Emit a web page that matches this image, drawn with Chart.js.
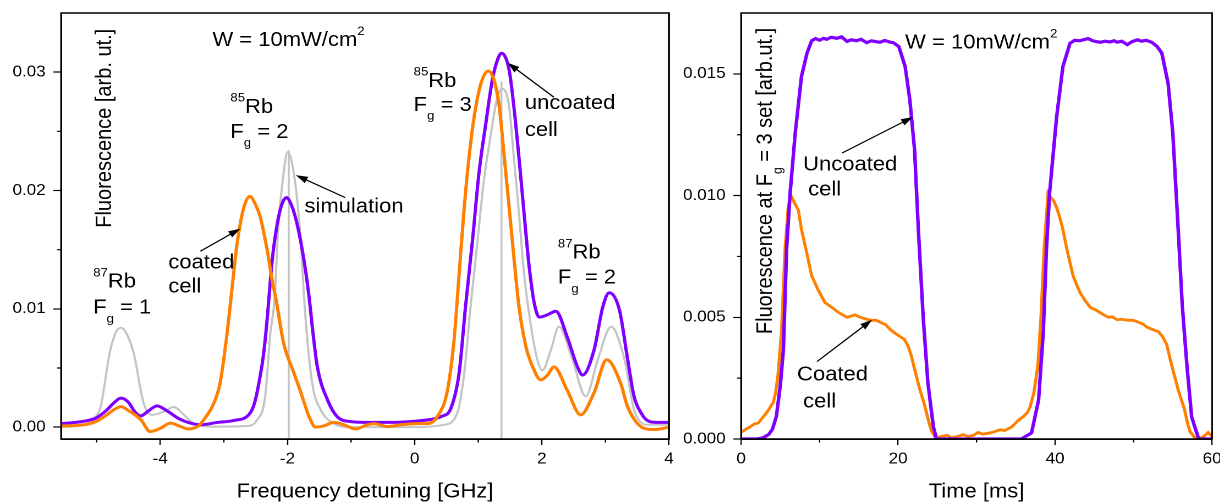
<!DOCTYPE html>
<html>
<head>
<meta charset="utf-8">
<script src="https://cdn.jsdelivr.net/npm/chart.js@4.4.0/dist/chart.umd.min.js"></script>
<style>
  html, body { margin: 0; padding: 0; background: #fff; }
  body { width: 1220px; height: 504px; position: relative; overflow: hidden; }
  /* both panels are drawn a little narrow and widened by 10% */
  .panel { position: absolute; top: 0; height: 504px; transform-origin: 0 0; transform: scaleX(1.1); }
  #leftBox { left: 0; width: 618px; }
  #rightBox { left: 680px; width: 491px; }
</style>
</head>
<body>
<div class="panel" id="leftBox"><canvas id="spectrum"></canvas></div>
<div class="panel" id="rightBox"><canvas id="timeTrace"></canvas></div>
<script>
// --- data: fluorescence spectrum ---
const uncoatedFreq = [-5.56, -5.2, -5.0, -4.85, -4.72, -4.62, -4.5, -4.4, -4.31, -4.18, -4.05, -3.9, -3.7, -3.5, -3.37, -3.1,
  -2.85, -2.6, -2.52, -2.45, -2.38, -2.33, -2.29, -2.24, -2.16, -2.09, -2.016, -1.94, -1.85, -1.74, -1.66, -1.61, -1.53,
  -1.37, -1.22, -1.0, -0.7, -0.4, 0.0, 0.3, 0.42, 0.57, 0.70, 0.80, 0.91, 1.01, 1.12, 1.22, 1.30, 1.365, 1.485, 1.56,
  1.64, 1.72, 1.80, 1.88, 1.96, 2.09, 2.22, 2.40, 2.56, 2.64, 2.82, 2.96, 3.06, 3.22, 3.35, 3.45, 3.56, 3.66, 3.8, 4.0];
const uncoatedFluo = [0.0003, 0.0005, 0.0008, 0.0014, 0.0021, 0.00245, 0.0021, 0.0013, 0.00095, 0.0014, 0.0018, 0.0014, 0.0007, 0.0003, 0.0002, 0.0004,
  0.00056, 0.0011, 0.002, 0.0037, 0.006, 0.0085, 0.011, 0.0141, 0.0172, 0.0188, 0.0194, 0.0188, 0.0172, 0.0141, 0.011, 0.0085, 0.0051,
  0.0023, 0.0009, 0.00047, 0.0004, 0.0004, 0.0005, 0.0007, 0.0009, 0.0016, 0.0046, 0.0102, 0.0158, 0.0214, 0.0257, 0.0293, 0.0310, 0.0316, 0.0302, 0.0271,
  0.0228, 0.0181, 0.0136, 0.0105, 0.0093, 0.0095, 0.0098, 0.0076, 0.0051, 0.0044, 0.0065, 0.0102, 0.01136, 0.0099, 0.0057, 0.0026, 0.0012, 0.00056, 0.0004, 0.0004];

const coatedFreq = [-5.56, -5.2, -5.0, -4.85, -4.72, -4.62, -4.5, -4.3, -4.16, -4.0, -3.84, -3.7, -3.56, -3.4, -3.32, -3.16, -3.06,
  -2.95, -2.87, -2.8, -2.72, -2.66, -2.59, -2.52, -2.43, -2.32, -2.24, -2.18, -2.06, -1.90, -1.80, -1.66, -1.56, -1.43, -1.27,
  -1.11, -0.93, -0.745, -0.64, -0.43, -0.22, 0.04, 0.2, 0.357, 0.515, 0.62, 0.70, 0.78, 0.855, 0.935, 1.04, 1.155, 1.25, 1.33,
  1.41, 1.485, 1.56, 1.64, 1.75, 1.88, 1.98, 2.09, 2.19, 2.40, 2.61, 2.82, 3.02, 3.24, 3.35, 3.61, 3.77, 4.0];
const coatedFluo = [0.0001, 0.0002, 0.0005, 0.0010, 0.0015, 0.00174, 0.0014, 0.0006, -0.00037, -0.0001, 0.00034, 0.0001, -0.00015, 0.0001, 0.0006, 0.0020, 0.0037,
  0.0079, 0.0118, 0.0152, 0.0178, 0.0190, 0.0195, 0.0190, 0.0178, 0.0150, 0.0124, 0.0108, 0.0071, 0.0046, 0.0031, 0.0009, 0.0, 0.0001, 0.0004,
  0.0002, -0.00015, 0.0002, 0.0003, 0.00005, 0.0002, 0.0003, 0.0003, 0.0009, 0.0031, 0.0074, 0.0130, 0.0186, 0.0228, 0.0262, 0.0290, 0.0301, 0.0293, 0.0271,
  0.0228, 0.0186, 0.0144, 0.0102, 0.0068, 0.0048, 0.0040, 0.0044, 0.0051, 0.0031, 0.00104, 0.0029, 0.0057, 0.0037, 0.0017, -0.0001, -0.0002, 0.0];

const simFreq = [-5.56, -5.2, -5.05, -4.94, -4.79, -4.7, -4.62, -4.54, -4.42, -4.26, -4.13, -3.95, -3.79, -3.6, -3.47, -3.2, -2.63, -2.48,
  -2.35, -2.27, -2.2, -2.15, -2.08, -1.995, -1.89, -1.80, -1.72, -1.61, -1.48, -1.27, -1.0, 0.0, 0.46, 0.67, 0.78, 0.88,
  0.99, 1.09, 1.20, 1.30, 1.38, 1.485, 1.56, 1.64, 1.72, 1.83, 1.93, 2.01, 2.14, 2.27, 2.48, 2.69, 2.88, 3.09, 3.30, 3.45, 3.66, 4.0];
const simFluo = [0.0, 0.0002, 0.0007, 0.0017, 0.0064, 0.0080, 0.0084, 0.0080, 0.0063, 0.0020, 0.00104, 0.0013, 0.0017, 0.0009, 0.0003, 0.00005, 0.0001, 0.0006,
  0.0026, 0.0079, 0.0110, 0.0164, 0.0206, 0.02326, 0.0211, 0.0164, 0.0095, 0.0037, 0.0015, 0.0003, 0.0, 0.0, 0.0002, 0.0012, 0.0046, 0.0102,
  0.0158, 0.0209, 0.0248, 0.0279, 0.0286, 0.0271, 0.0228, 0.0181, 0.0130, 0.0085, 0.0057, 0.0048, 0.0065, 0.0085, 0.0057, 0.0026, 0.0057, 0.0085, 0.0057, 0.0015, 0.0002, 0.0002];

// simulated line positions (stick spectrum)
const stickFreq = [-1.98, 1.365];
const stickTop = [0.0234, 0.0292];

const specXTicks = [-4, -2, 0, 2, 4];
const specXMinor = [-5, -3, -1, 1, 3];
const specYTicks = [0, 0.01, 0.02, 0.03];
const specYLabels = ['0.00', '0.01', '0.02', '0.03'];
const specYMinor = [0.005, 0.015, 0.025];

// --- data: time traces at the Fg = 3 line ---
const uncoatedTime = [0, 1, 2, 2.8, 3.5, 4.0, 4.5, 5.0, 5.4, 5.8, 6.25, 6.9, 7.7, 8.4, 9.0, 9.5, 10.0, 10.5, 10.9, 11.5, 12.2, 12.8,
  13.5, 14.0, 14.7, 15.3, 16.0, 16.6, 17.2, 17.7, 18.3, 18.9, 19.4, 20.1, 20.9, 21.5, 22.1, 22.6, 23.2, 23.8, 24.5, 24.9, 30, 35.7,
  37.0, 37.9, 38.5, 38.9, 39.3, 40.2, 41.0, 41.9, 42.5, 43.1, 43.6, 44.2, 44.8, 45.3, 45.8, 46.4, 47.0, 47.5, 47.9, 48.5, 49.2,
  49.8, 50.5, 51.0, 51.6, 52.3, 53.0, 53.6, 54.4, 55.0, 55.7, 56.2, 56.8, 57.4, 58.3, 60];
const uncoatedSignal = [0, 0, 0, 0.00005, 0.00018, 0.0004, 0.00093, 0.0022, 0.0037, 0.0078, 0.0101, 0.01257, 0.0149, 0.01585, 0.01636, 0.01645, 0.01638, 0.01646, 0.01642, 0.0165, 0.01646, 0.01652,
  0.01633, 0.0164, 0.01636, 0.01642, 0.01628, 0.01636, 0.01632, 0.0163, 0.01637, 0.01631, 0.01628, 0.01612, 0.0153, 0.01393, 0.01188, 0.0085, 0.005, 0.0023, 0.0005, 0, 0, 0,
  0.00025, 0.0016, 0.0044, 0.0078, 0.0101, 0.01324, 0.0153, 0.01626, 0.01638, 0.01636, 0.0164, 0.01645, 0.01636, 0.01632, 0.0163, 0.01634, 0.01631, 0.01636, 0.0163, 0.01634, 0.0162,
  0.01632, 0.0164, 0.01634, 0.01638, 0.0163, 0.01612, 0.01585, 0.0146, 0.01256, 0.0085, 0.0055, 0.003, 0.0009, 0, 0];

const coatedTime = [0, 0.6, 1.15, 1.7, 2.2, 2.8, 3.3, 3.7, 4.1, 4.4, 4.7, 5.15, 5.6, 6.0, 6.3, 6.8, 7.3, 7.7, 8.4, 9.0, 9.85,
  10.7, 11.6, 12.4, 13.5, 14.5, 15.2, 16.0, 16.7, 17.2, 17.7, 18.4, 19.0, 19.6, 20.3, 20.8, 21.3, 21.7, 22.0, 22.4, 22.8, 23.2,
  23.6, 24.0, 24.3, 24.9, 25.4, 26.3, 26.8, 27.5, 28.3, 28.9, 29.6, 30.2, 30.8, 31.7, 32.3, 33.0, 33.6, 34.5, 35.3, 36.0, 36.5,
  36.8, 37.3, 37.8, 38.2, 38.6, 39.1, 39.5, 39.8, 40.2, 40.6, 41.0, 41.5, 42.3, 42.8, 43.2, 43.8, 44.5, 45.2, 45.7, 46.2, 46.8,
  47.3, 47.9, 48.5, 49.2, 50.0, 50.6, 51.2, 51.7, 52.4, 53.2, 53.7, 54.2, 54.5, 54.8, 55.2, 55.7, 56.1, 56.5, 56.9, 57.2, 57.8,
  58.7, 59.1, 59.5, 60];
const coatedSignal = [0.00027, 0.0004, 0.0005, 0.00062, 0.00066, 0.0009, 0.0011, 0.0013, 0.0015, 0.0019, 0.0026, 0.0044, 0.0078, 0.0095, 0.01003, 0.0097, 0.0094, 0.0086, 0.0076, 0.0067, 0.0061,
  0.0056, 0.0054, 0.0052, 0.0050, 0.0051, 0.0050, 0.00492, 0.00487, 0.00488, 0.0048, 0.0047, 0.0045, 0.00435, 0.0042, 0.0041, 0.0038, 0.0034, 0.003, 0.0025, 0.002, 0.0016,
  0.0011, 0.0006, 0.0003, 0.0, 0.0001, 0.00015, 0.00005, 0.0001, 0.00018, 0.0001, 0.00015, 0.00027, 0.0002, 0.00025, 0.0003, 0.00038, 0.00035, 0.0005, 0.00076, 0.00093, 0.0011,
  0.0013, 0.0019, 0.003, 0.005, 0.0078, 0.0101, 0.0099, 0.0098, 0.0095, 0.0091, 0.0086, 0.0078, 0.0067, 0.0063, 0.006, 0.0057, 0.0054, 0.0053, 0.0052, 0.0051, 0.0050,
  0.00502, 0.0049, 0.00492, 0.00488, 0.00487, 0.0048, 0.00472, 0.0046, 0.0045, 0.0044, 0.0042, 0.0039, 0.0035, 0.0031, 0.0026, 0.002, 0.0016, 0.0012, 0.0006, 0.0003, 0.00005,
  0.00005, 0.00015, 0.00027, 0.0001];

const timeXTicks = [0, 20, 40, 60];
const timeXMinor = [10, 30, 50];
const timeYTicks = [0, 0.005, 0.01, 0.015];
const timeYLabels = ['0.000', '0.005', '0.010', '0.015'];
const timeYMinor = [0.0025, 0.0075, 0.0125];

// --- styling ---
const PURPLE = 'rgb(128,0,255)';
const ORANGE = 'rgb(255,128,0)';
const GREY = 'rgb(196,196,196)';
const FONT = '"Liberation Sans", Arial, sans-serif';

const pairs = (xs, ys) => xs.map((x, i) => ({ x: x, y: ys[i] }));

// vertical sticks from the bottom of the frame up to the line height
function stickPoints(xs, tops, bottom) {
  const pts = [];
  xs.forEach((x, i) => {
    if (i > 0) pts.push({ x: (xs[i - 1] + x) / 2, y: null });
    pts.push({ x: x, y: bottom }, { x: x, y: tops[i] });
  });
  return pts;
}

// text made of pieces: [text] / [text, 'sup'] / [text, 'sub']
function drawRich(ctx, x, y, parts, align) {
  const fontFor = k => (k ? '12px ' : '20px ') + FONT;
  let w = 0;
  parts.forEach(([t, k]) => { ctx.font = fontFor(k); w += ctx.measureText(t).width; });
  let cx = align === 'center' ? x - w / 2 : x;
  ctx.fillStyle = '#000';
  ctx.textBaseline = 'middle';
  ctx.textAlign = 'left';
  parts.forEach(([t, k]) => {
    ctx.font = fontFor(k);
    const dy = k === 'sup' ? -9 : k === 'sub' ? 11 : 0;
    ctx.fillText(t, cx, y + dy);
    cx += ctx.measureText(t).width;
  });
}

function drawArrow(ctx, x1, y1, x2, y2) {
  const ang = Math.atan2(y2 - y1, x2 - x1);
  const len = 11, half = 3.5;
  const c = Math.cos(ang), s = Math.sin(ang);
  ctx.strokeStyle = '#000';
  ctx.fillStyle = '#000';
  ctx.lineWidth = 1.2;
  ctx.beginPath();
  ctx.moveTo(x1, y1);
  ctx.lineTo(x2 - c * len * 0.8, y2 - s * len * 0.8);
  ctx.stroke();
  ctx.beginPath();
  ctx.moveTo(x2, y2);
  ctx.lineTo(x2 - len * c + half * s, y2 - len * s - half * c);
  ctx.lineTo(x2 - len * c - half * s, y2 - len * s + half * c);
  ctx.closePath();
  ctx.fill();
}

// frame, minor ticks, labels and arrows inside the plot
function makeDecor(cfg) {
  return {
    id: 'decor',
    afterDraw(chart) {
      const ctx = chart.ctx, a = chart.chartArea;
      const xs = chart.scales.x, ys = chart.scales.y;
      const px = v => xs.getPixelForValue(v), py = v => ys.getPixelForValue(v);
      ctx.save();
      ctx.strokeStyle = '#000';
      ctx.lineWidth = 1.5;
      ctx.strokeRect(a.left, a.top, a.right - a.left, a.bottom - a.top);

      ctx.lineWidth = 1.2;
      ctx.beginPath();
      cfg.minorX.forEach(v => { ctx.moveTo(px(v), a.bottom); ctx.lineTo(px(v), a.bottom + 3.5); });
      cfg.minorY.forEach(v => { ctx.moveTo(a.left, py(v)); ctx.lineTo(a.left - 3.5, py(v)); });
      ctx.stroke();

      cfg.arrows.forEach(r => drawArrow(ctx, px(r.from[0]), py(r.from[1]), px(r.to[0]), py(r.to[1])));
      cfg.notes.forEach(n => drawRich(ctx, px(n.x), py(n.y), n.parts, 'left'));

      ctx.translate(px(cfg.yTitle.x), py(cfg.yTitle.y));
      ctx.rotate(-Math.PI / 2);
      drawRich(ctx, 0, 0, cfg.yTitle.parts, 'center');
      ctx.restore();
    }
  };
}

function buildScales(xr, yr, xTicks, yTicks, yLabels, xTitle) {
  const tickFont = { family: FONT, size: 15.5 };
  return {
    x: {
      type: 'linear', min: xr[0], max: xr[1],
      afterBuildTicks: s => { s.ticks = xTicks.map(v => ({ value: v })); },
      ticks: { font: tickFont, color: '#000', padding: 5, maxRotation: 0, autoSkip: false, callback: v => String(v) },
      grid: { drawOnChartArea: false, tickLength: 6, tickColor: '#000', tickWidth: 1.2 },
      border: { color: '#000', width: 1.5 },
      title: { display: true, text: xTitle, color: '#000', font: { family: FONT, size: 20 }, padding: { top: 0, bottom: 0 } },
      afterFit: s => { s.height = 65; s.paddingLeft = 0; s.paddingRight = 0; }
    },
    y: {
      type: 'linear', min: yr[0], max: yr[1],
      afterBuildTicks: s => { s.ticks = yTicks.map(v => ({ value: v })); },
      ticks: { font: tickFont, color: '#000', padding: 7, callback: (v, i) => yLabels[i] },
      grid: { drawOnChartArea: false, tickLength: 7, tickColor: '#000', tickWidth: 1.2 },
      border: { color: '#000', width: 1.5 },
      afterFit: s => { s.width = 55.5; s.paddingTop = 0; s.paddingBottom = 0; }
    }
  };
}

const common = {
  responsive: true,
  maintainAspectRatio: false,
  animation: false,
  devicePixelRatio: 2,
  elements: { point: { radius: 0, hoverRadius: 0 } },
  plugins: { legend: { display: false }, tooltip: { enabled: false } },
  events: []
};

// left panel: spectrum
new Chart(document.getElementById('spectrum'), {
  type: 'line',
  data: {
    datasets: [
      { label: 'coated cell', data: pairs(coatedFreq, coatedFluo), borderColor: ORANGE, borderWidth: 3, order: 0, cubicInterpolationMode: 'monotone' },
      { label: 'uncoated cell', data: pairs(uncoatedFreq, uncoatedFluo), borderColor: PURPLE, borderWidth: 3, order: 1, cubicInterpolationMode: 'monotone' },
      { label: 'simulation', data: pairs(simFreq, simFluo), borderColor: GREY, borderWidth: 2, order: 2, cubicInterpolationMode: 'monotone' },
      { label: 'lines', data: stickPoints(stickFreq, stickTop, -0.001), borderColor: GREY, borderWidth: 1.8, order: 3, tension: 0 }
    ]
  },
  options: Object.assign({}, common, {
    layout: { padding: { top: 13, right: 9.8, left: 0, bottom: 0 } },
    scales: buildScales([-5.56, 4], [-0.001, 0.035], specXTicks, specYTicks, specYLabels, 'Frequency detuning [GHz]')
  }),
  plugins: [makeDecor({
    minorX: specXMinor,
    minorY: specYMinor,
    yTitle: { x: -4.87, y: 0.02526, parts: [['Fluorescence [arb. ut.]']] },
    notes: [
      { x: -3.18, y: 0.03268, parts: [['W = 10mW/cm'], ['2', 'sup']] },
      { x: -2.898, y: 0.02703, parts: [['85', 'sup'], ['Rb']] },
      { x: -2.898, y: 0.02492, parts: [['F'], ['g', 'sub'], [' = 2']] },
      { x: -1.732, y: 0.01859, parts: [['simulation']] },
      { x: -3.874, y: 0.01387, parts: [['coated']] },
      { x: -3.874, y: 0.01184, parts: [['cell']] },
      { x: -5.055, y: 0.01227, parts: [['87', 'sup'], ['Rb']] },
      { x: -5.055, y: 0.01007, parts: [['F'], ['g', 'sub'], [' = 1']] },
      { x: -0.016, y: 0.02922, parts: [['85', 'sup'], ['Rb']] },
      { x: -0.016, y: 0.02719, parts: [['F'], ['g', 'sub'], [' = 3']] },
      { x: 1.732, y: 0.02736, parts: [['uncoated']] },
      { x: 1.732, y: 0.02508, parts: [['cell']] },
      { x: 2.252, y: 0.01471, parts: [['87', 'sup'], ['Rb']] },
      { x: 2.252, y: 0.01260, parts: [['F'], ['g', 'sub'], [' = 2']] }
    ],
    arrows: [
      { from: [-1.09, 0.0194], to: [-1.87, 0.0213] },
      { from: [-3.37, 0.01487], to: [-2.74, 0.01678] },
      { from: [2.19, 0.02788], to: [1.46, 0.0308] }
    ]
  })]
});

// right panel: time traces
new Chart(document.getElementById('timeTrace'), {
  type: 'line',
  data: {
    datasets: [
      { label: 'Uncoated cell', data: pairs(uncoatedTime, uncoatedSignal), borderColor: PURPLE, borderWidth: 3.2, order: 0, tension: 0 },
      { label: 'Coated cell', data: pairs(coatedTime, coatedSignal), borderColor: ORANGE, borderWidth: 2.8, order: 1, tension: 0 }
    ]
  },
  options: Object.assign({}, common, {
    layout: { padding: { top: 13, right: 7.3, left: 0, bottom: 0 } },
    scales: buildScales([0, 60], [0, 0.0175], timeXTicks, timeYTicks, timeYLabels, 'Time [ms]')
  }),
  plugins: [makeDecor({
    minorX: timeXMinor,
    minorY: timeYMinor,
    yTitle: { x: 3.18, y: 0.0106, parts: [['Fluorescence at F'], ['g', 'sub'], [' = 3 set [arb.ut.]']] },
    notes: [
      { x: 20.9, y: 0.01627, parts: [['W = 10mW/cm'], ['2', 'sup']] },
      { x: 7.9, y: 0.01126, parts: [['Uncoated']] },
      { x: 8.54, y: 0.01023, parts: [['cell']] },
      { x: 7.13, y: 0.00264, parts: [['Coated']] },
      { x: 7.9, y: 0.00153, parts: [['cell']] }
    ],
    arrows: [
      { from: [12.87, 0.01175], to: [21.91, 0.01323] },
      { from: [9.68, 0.00318], to: [16.69, 0.0049] }
    ]
  })]
});
</script>
</body>
</html>
